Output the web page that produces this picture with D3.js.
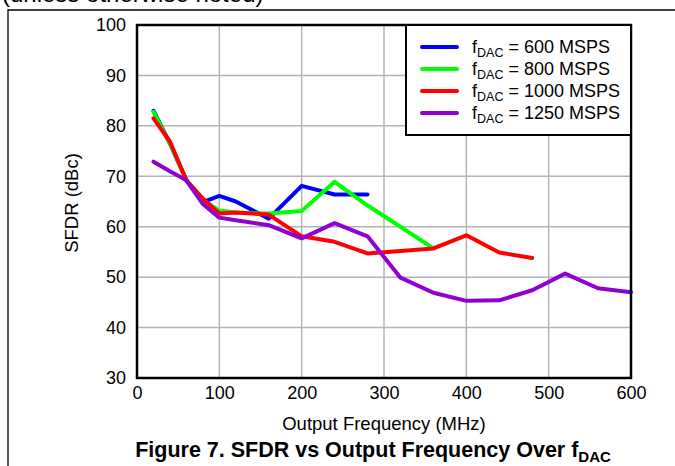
<!DOCTYPE html>
<html><head><meta charset="utf-8">
<script src="https://cdn.jsdelivr.net/npm/d3@7"></script>
<style>body{margin:0;background:#fff;} svg{display:block;font-family:"Liberation Sans",Arial,sans-serif;}</style>
</head><body>
<svg id="c" width="675" height="466"></svg>
<script>
const xTicks = [0,100,200,300,400,500,600];
const yTicks = [30,40,50,60,70,80,90,100];
const seriesNames = ["600", "800", "1000", "1250"];
const colors = ["#0000ff", "#00ff00", "#ff0000", "#9000d0"];
const f600x  = [20,40,60,80,100,120,160,200,240,280];
const f600y  = [83,76.5,69.2,64.9,66.1,65.0,61.6,68.1,66.4,66.4];
const f800x  = [20,40,60,80,100,120,160,200,240,280,320,360];
const f800y  = [82.8,76.5,69.2,65.3,63.2,62.8,62.6,63.1,68.9,64.2,60.0,55.7];
const f1000x = [20,40,60,80,100,120,160,200,240,280,320,360,400,440,480];
const f1000y = [81.5,76.9,69.2,65.6,62.6,62.8,62.4,58.1,57.0,54.7,55.2,55.7,58.3,54.9,53.8];
const f1250x = [20,40,60,80,100,120,160,200,240,280,320,360,400,440,480,520,560,600];
const f1250y = [72.9,71.0,69.2,64.5,61.8,61.3,60.3,57.7,60.7,58.1,49.9,46.9,45.3,45.4,47.4,50.7,47.8,47.0];

const data = [
  f600x.map((x,i)=>[x,f600y[i]]),
  f800x.map((x,i)=>[x,f800y[i]]),
  f1000x.map((x,i)=>[x,f1000y[i]]),
  f1250x.map((x,i)=>[x,f1250y[i]])
];

const svg = d3.select("#c");
const L=137, R=631, T=25, B=378;
const x = d3.scaleLinear().domain([0,600]).range([L,R]);
const y = d3.scaleLinear().domain([30,100]).range([B,T]);

// outer frame
svg.append("path").attr("d","M8,466 V10 H675").attr("fill","none").attr("stroke","#000").attr("stroke-width",1.3);
svg.append("text").attr("x",2).attr("y",2).attr("font-size",24).text("(unless otherwise noted)");

// grid
svg.append("g").selectAll("line").data(xTicks.slice(1,-1)).join("line")
  .attr("x1",d=>x(d)).attr("x2",d=>x(d)).attr("y1",T).attr("y2",B)
  .attr("stroke","#b4b4b4").attr("stroke-width",1.5);
svg.append("g").selectAll("line").data(yTicks.slice(1,-1)).join("line")
  .attr("y1",d=>y(d)).attr("y2",d=>y(d)).attr("x1",L).attr("x2",R)
  .attr("stroke","#b4b4b4").attr("stroke-width",1.5);

// axes labels via d3 axes
const xa = svg.append("g").attr("transform",`translate(0,${B})`)
  .call(d3.axisBottom(x).tickValues(xTicks).tickSize(0).tickPadding(8));
const ya = svg.append("g").attr("transform",`translate(${L},0)`)
  .call(d3.axisLeft(y).tickValues(yTicks).tickSize(0).tickPadding(11));
[xa,ya].forEach(g=>{
  g.select(".domain").remove();
  g.selectAll("text").attr("font-size",18).attr("fill","#000").attr("font-family","Liberation Sans, Arial, sans-serif");
});

// lines
const line = d3.line().x(d=>x(d[0])).y(d=>y(d[1]));
svg.append("g").selectAll("path").data(data).join("path")
  .attr("d",line).attr("fill","none")
  .attr("stroke",(d,i)=>colors[i]).attr("stroke-width",4).attr("stroke-linejoin","round").attr("stroke-linecap","round");

// plot frame
svg.append("rect").attr("x",L).attr("y",T).attr("width",R-L).attr("height",B-T)
  .attr("fill","none").attr("stroke","#000").attr("stroke-width",2.5);

// legend
const lg = svg.append("g");
lg.append("rect").attr("x",406).attr("y",T).attr("width",R-406).attr("height",110)
  .attr("fill","#fff").attr("stroke","#000").attr("stroke-width",2);
seriesNames.forEach((n,i)=>{
  const yy = 47 + i*22;
  lg.append("line").attr("x1",422).attr("x2",457).attr("y1",yy).attr("y2",yy)
    .attr("stroke",colors[i]).attr("stroke-width",4).attr("stroke-linecap","round");
  const t = lg.append("text").attr("x",472).attr("y",yy+6).attr("font-size",18);
  t.append("tspan").text("f");
  t.append("tspan").attr("font-size",12.5).attr("dy",4).text("DAC");
  t.append("tspan").attr("dy",-4).text(" = " + n + " MSPS");
});

// axis titles
svg.append("text").attr("x",384).attr("y",430).attr("text-anchor","middle").attr("font-size",18.5)
  .text("Output Frequency (MHz)");
svg.append("text").attr("transform","translate(78,203) rotate(-90)").attr("text-anchor","middle").attr("font-size",18.5)
  .text("SFDR (dBc)");

// figure title
const ft = svg.append("text").attr("x",373).attr("y",457).attr("text-anchor","middle")
  .attr("font-size",21.5).attr("font-weight","bold");
ft.append("tspan").text("Figure 7. SFDR vs Output Frequency Over f");
ft.append("tspan").attr("font-size",15).attr("dy",5).text("DAC");
</script>
</body></html>
